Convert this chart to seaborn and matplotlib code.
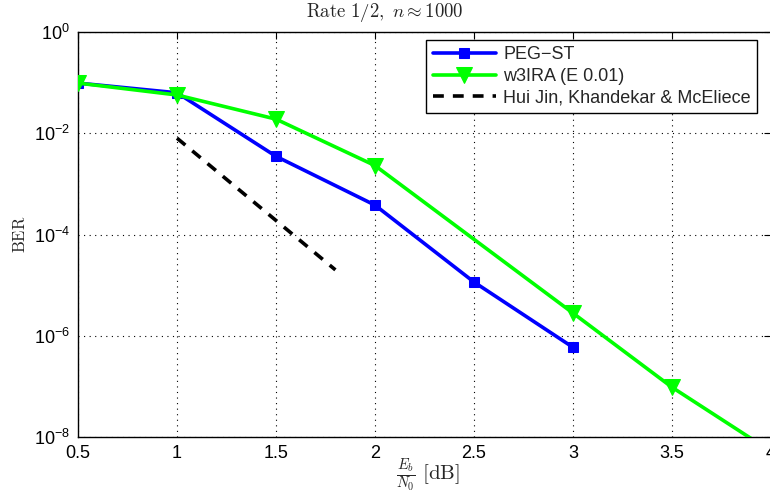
import matplotlib
matplotlib.use("Agg")
import matplotlib.pyplot as plt
import seaborn as sns
import pandas as pd
import numpy as np
from matplotlib.ticker import FixedLocator, FixedFormatter, NullLocator

# Data
peg_x = [0.5, 1.0, 1.5, 2.0, 2.5, 3.0]
peg_y = [0.098, 0.063, 3.5e-3, 3.8e-4, 1.15e-5, 5.9e-7]
ira_x = [0.5, 1.0, 1.5, 2.0, 3.0, 3.5, 4.0]
ira_y = [0.098, 0.057, 0.019, 2.3e-3, 2.8e-6, 9.6e-8, 5.2e-9]
hjk_x = [1.0, 1.8]
hjk_y = [8e-3, 2e-5]
labels = ["PEG\u2212ST", "w3IRA (E 0.01)", "Hui Jin, Khandekar & McEliece"]
xticks = [0.5, 1, 1.5, 2, 2.5, 3, 3.5, 4]
xticklabels = ["0.5", "1", "1.5", "2", "2.5", "3", "3.5", "4"]
yticks = [1e0, 1e-2, 1e-4, 1e-6, 1e-8]
yticklabels = [r"$\mathregular{10^{0}}$", r"$\mathregular{10^{-2}}$", r"$\mathregular{10^{-4}}$",
               r"$\mathregular{10^{-6}}$", r"$\mathregular{10^{-8}}$"]

sns.set_style("white")
plt.rcParams['font.family'] = ['Liberation Sans', 'DejaVu Sans']
plt.rcParams['mathtext.fontset'] = 'cm'

fig = plt.figure(figsize=(7.70, 4.93), dpi=100)
ax = fig.add_axes([78/770, 1-437/493, (771-78)/770, (437-32)/493])

df_peg = pd.DataFrame({"x": peg_x, "y": peg_y})
df_ira = pd.DataFrame({"x": ira_x, "y": ira_y})
df_hjk = pd.DataFrame({"x": hjk_x, "y": hjk_y})

sns.lineplot(data=df_peg, x="x", y="y", ax=ax, color="#0000ff", lw=2.6, marker="s",
             markersize=7, markeredgecolor="#0000ff", label=labels[0], zorder=3)
sns.lineplot(data=df_ira, x="x", y="y", ax=ax, color="#00ff00", lw=2.6, marker="v",
             markersize=12, markeredgecolor="#00ff00", label=labels[1], zorder=4)
sns.lineplot(data=df_hjk, x="x", y="y", ax=ax, color="black", lw=2.6, linestyle=(0, (3, 2.5)),
             label=labels[2], zorder=3)

ax.set_yscale("log")
ax.set_xlim(0.5, 4)
ax.set_ylim(1e-8, 1e0)
ax.xaxis.set_major_locator(FixedLocator(xticks))
ax.xaxis.set_major_formatter(FixedFormatter(xticklabels))
ax.yaxis.set_major_locator(FixedLocator(yticks))
ax.yaxis.set_major_formatter(FixedFormatter(yticklabels))
ax.yaxis.set_minor_locator(NullLocator())
ax.tick_params(axis="both", which="major", direction="in", length=5, width=0.8,
               top=True, right=True, labelsize=13, colors="black", pad=6)
ax.grid(True, which="major", linestyle=(0, (1, 4)), color="black", linewidth=0.8)
for s in ax.spines.values():
    s.set_visible(True)
    s.set_color("black")
    s.set_linewidth(1.0)

fig.text(385/770, 1-12/493, r"$\mathrm{Rate\ 1/2,}\ n \approx 1000$", fontsize=13.5,
         ha="center", va="center")
fig.text(428/770, 1-475/493, r"$\frac{E_b}{N_0}\ \mathrm{[dB]}$", fontsize=15,
         ha="center", va="center")
ax.set_xlabel("")
ax.set_ylabel(r"$\mathrm{BER}$", fontsize=12, labelpad=4)

leg = ax.legend(loc="upper right", bbox_to_anchor=(0.98, 0.98), fontsize=13, frameon=True,
                fancybox=False, edgecolor="black", framealpha=1, borderpad=0.35,
                labelspacing=0.25, handlelength=3.5, handletextpad=0.4, borderaxespad=0)
leg.get_frame().set_linewidth(1.0)

fig.savefig("out.png", dpi=100)
